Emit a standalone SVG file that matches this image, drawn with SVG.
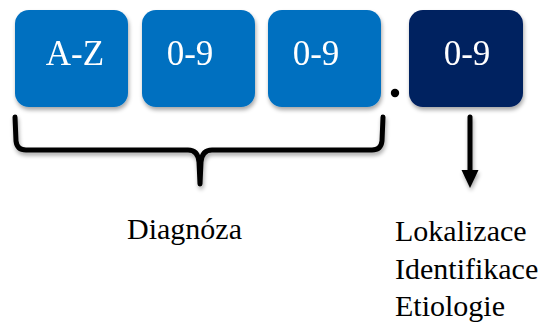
<svg xmlns="http://www.w3.org/2000/svg" width="550" height="328" viewBox="0 0 550 328">
  <style>
    text { font-family: 'Liberation Serif', 'Times New Roman', Times, serif; }
    .box { fill: #0070C0; }
    .box.dark { fill: #002060; }
    .code { font-size: 35px; fill: #ffffff; text-anchor: middle; }
    .label { font-size: 30px; fill: #000000; }
    .line { fill: none; stroke: #000000; stroke-width: 5; stroke-linecap: round; stroke-linejoin: round; }
  </style>
  <defs>
    <filter id="shadow" x="-20%" y="-20%" width="140%" height="150%">
      <feGaussianBlur in="SourceAlpha" stdDeviation="2"/>
      <feOffset dx="1" dy="3" result="b"/>
      <feComponentTransfer><feFuncA type="linear" slope="0.35"/></feComponentTransfer>
      <feMerge><feMergeNode/><feMergeNode in="SourceGraphic"/></feMerge>
    </filter>
  </defs>

  <g id="letter" filter="url(#shadow)">
    <rect class="box" x="15" y="10" width="113" height="97" rx="14"/>
    <text class="code" x="75" y="65">A-Z</text>
  </g>
  <g id="digit1" filter="url(#shadow)">
    <rect class="box" x="142" y="10" width="113" height="97" rx="14"/>
    <text class="code" x="190" y="65">0-9</text>
  </g>
  <g id="digit2" filter="url(#shadow)">
    <rect class="box" x="268" y="10" width="113" height="97" rx="14"/>
    <text class="code" x="316" y="65">0-9</text>
  </g>
  <g id="dot">
    <circle cx="395" cy="93" r="4.2" fill="#000000"/>
  </g>
  <g id="digit3" filter="url(#shadow)">
    <rect class="box dark" x="409" y="10" width="114" height="97" rx="14"/>
    <text class="code" x="467" y="65">0-9</text>
  </g>

  <g id="connectors" filter="url(#shadow)">
    <!-- curly brace under the three category characters -->
    <path class="line" d="M15,117 L16,141 Q17,150 26,150 L188,150 Q198,150 199,162 L200,184 M200,184 L201,162 Q202,150 212,150 L372,150 Q381,150 382,141 L383,117"/>
    <!-- arrow from the subcategory digit -->
    <line class="line" x1="470" y1="117" x2="470" y2="176" stroke-linecap="butt"/>
    <polygon points="461.5,170 478.5,170 470,188" fill="#000000"/>
  </g>

  <g id="diagnosis">
    <text class="label" x="127" y="239">Diagnóza</text>
  </g>
  <g id="details">
    <text class="label" x="395" y="241">Lokalizace</text>
    <text class="label" x="395" y="279">Identifikace</text>
    <text class="label" x="395" y="316">Etiologie</text>
  </g>
</svg>
